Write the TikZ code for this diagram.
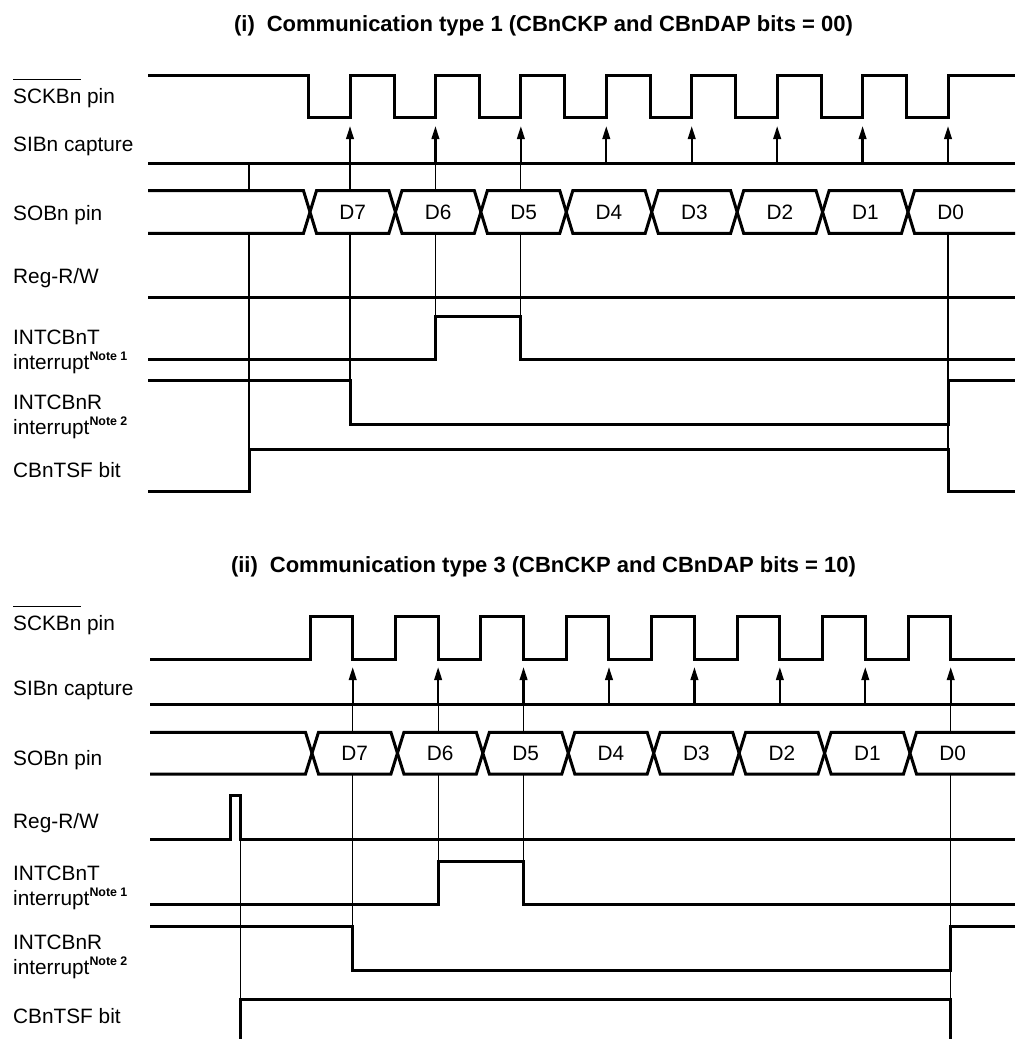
\documentclass[tikz,border=0pt]{standalone}
\usepackage{fontspec}
\setmainfont{Liberation Sans}
\usetikzlibrary{arrows.meta}
\newlength\ovlen
\newcommand\myover[1]{\settowidth\ovlen{#1}\rlap{\raisebox{23pt}{\rule{\ovlen}{0.9pt}}}#1}
\newcommand\nt[1]{\raisebox{9pt}{\fontsize{12.4}{13}\selectfont\bfseries #1}}
\begin{document}
\begin{tikzpicture}[x=1pt,y=-1pt,
  sig/.style={line width=3pt,line join=miter},
  guide/.style={line width=1.2pt},
  capt/.style={line width=2.2pt,-{Triangle[length=13pt,width=7.5pt]}},
  bus/.style={line width=3pt,line join=miter,fill=white},
  lbl/.style={anchor=base west,inner sep=0pt,font=\fontsize{20.8}{25}\selectfont},
  dlbl/.style={anchor=base,inner sep=0pt,font=\fontsize{20.8}{25}\selectfont},
  ttl/.style={anchor=base,inner sep=0pt,font=\fontsize{22}{26}\selectfont\bfseries}]
\useasboundingbox (0,0) rectangle (1015,1039);
\def\p{85.43}
\def\h{6.5}
% ================= Part (i) =================
\node[ttl] (t1) at (543.5,31) {(i)\hspace{12pt}Communication type 1 (CBnCKP and CBnDAP bits = 00)};
\node[lbl] (l1a) at (13,103) {\myover{SCKBn} pin};
\node[lbl] (l1b) at (13,151.7) {SIBn capture};
\node[lbl] (l1c) at (13,220) {SOBn pin};
\node[lbl] (l1d) at (13,283) {Reg-R/W};
\node[lbl] (l1e) at (13,344) {INTCBnT};
\node[lbl] (l1f) at (13,369) {interrupt\nt{Note 1}};
\node[lbl] (l1g) at (13,409) {INTCBnR};
\node[lbl] (l1h) at (13,434) {interrupt\nt{Note 2}};
\node[lbl] (l1i) at (13,477) {CBnTSF bit};
% guide lines
\draw[guide] (249,163.3) -- (249,449);
\draw[guide] (350,163.3) -- (350,380.7);
\draw[guide] ({350+\p},163.3) -- ({350+\p},316.7);
\draw[guide] ({350+2*\p},163.3) -- ({350+2*\p},316.7);
\draw[guide] ({350+7*\p},233.3) -- ({350+7*\p},449);
% SCK
\draw[sig] (148,75) foreach \k in {0,...,7} { -- ({308.6+\k*\p},75) -- ({308.6+\k*\p},117.6) -- ({350+\k*\p},117.6) -- ({350+\k*\p},75) } -- (1015,75);
% SIB capture
\draw[sig] (148,163.3) -- (1015,163.3);
\foreach \k in {0,...,7} \draw[capt] ({350+\k*\p},163.3) -- ({350+\k*\p},126);
% SOB bus
\draw[bus] (148,190.7) -- ({310-\h},190.7) -- (310,212) -- ({310-\h},233.3) -- (148,233.3);
\foreach \k in {0,...,6} \draw[bus] ({310+\k*\p},212) -- ({310+\k*\p+\h},190.7) -- ({310+(\k+1)*\p-\h},190.7) -- ({310+(\k+1)*\p},212) -- ({310+(\k+1)*\p-\h},233.3) -- ({310+\k*\p+\h},233.3) -- cycle;
\fill[white] ({310+7*\p},212) -- ({310+7*\p+\h},190.7) -- (1015,190.7) -- (1015,233.3) -- ({310+7*\p+\h},233.3) -- cycle;
\draw[sig] (1015,190.7) -- ({310+7*\p+\h},190.7) -- ({310+7*\p},212) -- ({310+7*\p+\h},233.3) -- (1015,233.3);
\foreach \k/\t in {0/D7,1/D6,2/D5,3/D4,4/D3,5/D2,6/D1,7/D0} \node[dlbl] (a\k) at ({310+\k*\p+\p/2},219.3) {\t};
% Reg-R/W
\draw[sig] (148,297.7) -- (1015,297.7);
% INTCBnT
\draw[sig] (148,359.3) -- ({350+\p},359.3) -- ({350+\p},316.7) -- ({350+2*\p},316.7) -- ({350+2*\p},359.3) -- (1015,359.3);
% INTCBnR
\draw[sig] (148,380.7) -- (350,380.7) -- (350,424) -- ({350+7*\p},424) -- ({350+7*\p},380.7) -- (1015,380.7);
% CBnTSF
\draw[sig] (148,491.7) -- (249,491.7) -- (249,449) -- ({350+7*\p},449) -- ({350+7*\p},491.7) -- (1015,491.7);
% ================= Part (ii) =================
\node[ttl] (t2) at (543.5,572) {(ii)\hspace{12pt}Communication type 3 (CBnCKP and CBnDAP bits = 10)};
\node[lbl] (l2a) at (13,630) {\myover{SCKBn} pin};
\node[lbl] (l2b) at (13,695) {SIBn capture};
\node[lbl] (l2c) at (13,765) {SOBn pin};
\node[lbl] (l2d) at (13,828) {Reg-R/W};
\node[lbl] (l2e) at (13,880) {INTCBnT};
\node[lbl] (l2f) at (13,905) {interrupt\nt{Note 1}};
\node[lbl] (l2g) at (13,949) {INTCBnR};
\node[lbl] (l2h) at (13,974) {interrupt\nt{Note 2}};
\node[lbl] (l2i) at (13,1023) {CBnTSF bit};
% guide lines
\draw[guide] (240.7,839.3) -- (240.7,999);
\draw[guide] (352.7,704.3) -- (352.7,926.7);
\draw[guide] ({352.7+\p},704.3) -- ({352.7+\p},861.7);
\draw[guide] ({352.7+2*\p},704.3) -- ({352.7+2*\p},861.7);
\draw[guide] ({352.7+7*\p},704.3) -- ({352.7+7*\p},999);
% SCK
\draw[sig] (150,659) foreach \k in {0,...,7} { -- ({310+\k*\p},659) -- ({310+\k*\p},616) -- ({352.7+\k*\p},616) -- ({352.7+\k*\p},659) } -- (1015,659);
% SIB capture
\draw[sig] (150,704.3) -- (1015,704.3);
\foreach \k in {0,...,7} \draw[capt] ({352.7+\k*\p},704.3) -- ({352.7+\k*\p},667);
% SOB bus
\draw[bus] (150,732.3) -- ({312-\h},732.3) -- (312,753.15) -- ({312-\h},774) -- (150,774);
\foreach \k in {0,...,6} \draw[bus] ({312+\k*\p},753.15) -- ({312+\k*\p+\h},732.3) -- ({312+(\k+1)*\p-\h},732.3) -- ({312+(\k+1)*\p},753.15) -- ({312+(\k+1)*\p-\h},774) -- ({312+\k*\p+\h},774) -- cycle;
\fill[white] ({312+7*\p},753.15) -- ({312+7*\p+\h},732.3) -- (1015,732.3) -- (1015,774) -- ({312+7*\p+\h},774) -- cycle;
\draw[sig] (1015,732.3) -- ({312+7*\p+\h},732.3) -- ({312+7*\p},753.15) -- ({312+7*\p+\h},774) -- (1015,774);
\foreach \k/\t in {0/D7,1/D6,2/D5,3/D4,4/D3,5/D2,6/D1,7/D0} \node[dlbl] (b\k) at ({312+\k*\p+\p/2},760) {\t};
% Reg-R/W
\draw[sig] (150,839.3) -- (230,839.3) -- (230,795.7) -- (240.7,795.7) -- (240.7,839.3) -- (1015,839.3);
% INTCBnT
\draw[sig] (150,904.3) -- ({352.7+\p},904.3) -- ({352.7+\p},861.7) -- ({352.7+2*\p},861.7) -- ({352.7+2*\p},904.3) -- (1015,904.3);
% INTCBnR
\draw[sig] (150,926.7) -- (352.7,926.7) -- (352.7,970) -- ({352.7+7*\p},970) -- ({352.7+7*\p},926.7) -- (1015,926.7);
% CBnTSF
\draw[sig] (150,1045) -- (240.7,1045) -- (240.7,999) -- ({352.7+7*\p},999) -- ({352.7+7*\p},1045) -- (1015,1045);
\end{tikzpicture}
\end{document}
